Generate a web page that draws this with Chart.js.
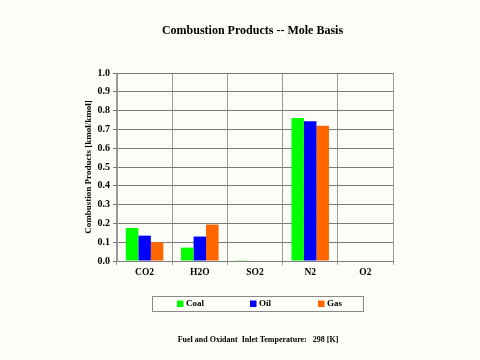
<!DOCTYPE html>
<html>
<head>
<meta charset="utf-8">
<script src="https://cdn.jsdelivr.net/npm/chart.js@4/dist/chart.umd.min.js"></script>
<style>
  html, body { margin: 0; padding: 0; background: #FDFDF7; }
  canvas { display: block; background: #FDFDF7; }
</style>
</head>
<body>
<canvas id="c" width="480" height="360"></canvas>
<script>
const categories = ['CO2', 'H2O', 'SO2', 'N2', 'O2'];
const seriesNames = ['Coal', 'Oil', 'Gas'];
const coal = [0.176, 0.071, 0.004, 0.760, 0];
const oil  = [0.135, 0.130, 0.000, 0.744, 0];
const gas  = [0.100, 0.194, 0.000, 0.719, 0];
const seriesColors = ['#00FF00', '#0000FF', '#FF6600'];
const titleText = 'Combustion Products -- Mole Basis';
const yAxisLabel = 'Combustion Products [kmol/kmol]';
const footerText = 'Fuel and Oxidant  Inlet Temperature:   298 [K]';

const SERIF = '"Liberation Serif", "Times New Roman", serif';

const decor = {
  id: 'decor',
  afterDraw(chart) {
    const ctx = chart.ctx;
    const ca = chart.chartArea;
    ctx.save();
    ctx.fillStyle = '#000';
    // title
    ctx.font = 'bold 12px ' + SERIF;
    ctx.textAlign = 'center';
    ctx.textBaseline = 'middle';
    ctx.fillText(titleText, 252.5, 30.5);
    // y axis label
    ctx.save();
    ctx.translate(89, (ca.top + ca.bottom) / 2);
    ctx.rotate(-Math.PI / 2);
    ctx.font = 'bold 9px ' + SERIF;
    ctx.fillText(yAxisLabel, 0, 0);
    ctx.restore();
    // legend box
    const lx = 152.5, ly = 296.5, lw = 211, lh = 15;
    ctx.strokeStyle = '#8a8a8a';
    ctx.lineWidth = 1;
    ctx.strokeRect(lx, ly, lw, lh);
    const itemX = [177, 250, 318];
    ctx.font = 'bold 9px ' + SERIF;
    ctx.textAlign = 'left';
    chart.data.datasets.forEach((ds, i) => {
      ctx.fillStyle = ds.backgroundColor;
      ctx.fillRect(itemX[i], 300.5, 6.5, 6.5);
      ctx.fillStyle = '#000';
      ctx.fillText(ds.label, itemX[i] + 9, 304);
    });
    // footer
    ctx.font = 'bold 8px ' + SERIF;
    ctx.textAlign = 'center';
    ctx.fillText(footerText, 258, 340);
    ctx.restore();
  }
};

new Chart(document.getElementById('c'), {
  type: 'bar',
  data: {
    labels: categories,
    datasets: [
      { label: seriesNames[0], data: coal, backgroundColor: seriesColors[0] },
      { label: seriesNames[1], data: oil,  backgroundColor: seriesColors[1] },
      { label: seriesNames[2], data: gas,  backgroundColor: seriesColors[2] }
    ]
  },
  options: {
    responsive: false,
    animation: false,
    devicePixelRatio: 1,
    layout: { padding: { left: 87, right: 87, top: 73, bottom: 79 } },
    datasets: { bar: { categoryPercentage: 0.68, barPercentage: 1.0, borderWidth: 0 } },
    plugins: {
      legend: { display: false },
      title: { display: false },
      tooltip: { enabled: false }
    },
    scales: {
      x: {
        afterFit(s) { s.height = 20; },
        grid: { color: '#9a9a9a', lineWidth: 1, tickLength: 4, offset: true, drawTicks: true },
        border: { color: '#808080' },
        ticks: { color: '#000', font: { family: SERIF, size: 9.5, weight: 'bold' }, padding: 2 }
      },
      y: {
        min: 0, max: 1,
        afterFit(s) { s.width = 30; },
        grid: { color: '#7a7a7a', lineWidth: 1, tickLength: 4, drawTicks: true },
        border: { color: '#9a9a9a' },
        ticks: {
          stepSize: 0.1,
          color: '#000',
          padding: 3,
          font: { family: SERIF, size: 10, weight: 'bold' },
          callback: v => Number(v).toFixed(1)
        }
      }
    }
  },
  plugins: [decor]
});
</script>
</body>
</html>
